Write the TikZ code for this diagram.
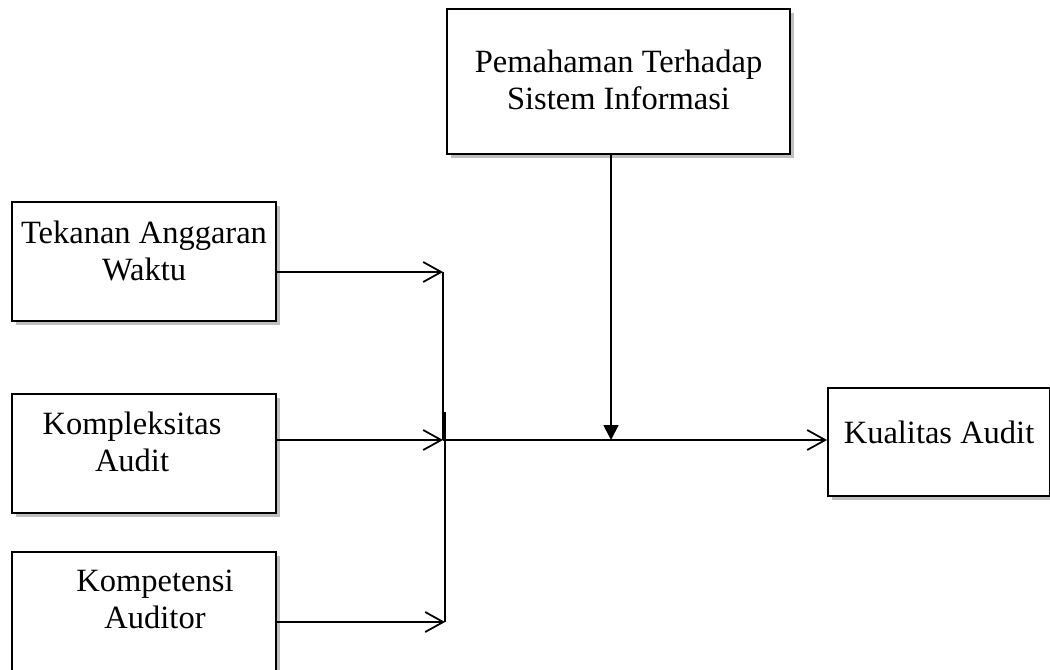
\documentclass[tikz,border=0pt]{standalone}
\usepackage{fontspec}
\setmainfont{Liberation Serif}
\usetikzlibrary{arrows.meta,shadows}

\begin{document}
\begin{tikzpicture}[x=0.02cm, y=-0.02cm,
	box/.style={rectangle, draw=black, line width=1.2pt, fill=white, anchor=north west, align=center, inner sep=0pt,
		font=\fontsize{18.5}{21}\selectfont, drop shadow={fill=black!25, opacity=1, shadow xshift=0.08cm, shadow yshift=-0.08cm}},
	link/.style={draw=black, line width=1pt},
	openhead/.style={-{Straight Barb[length=0.36cm, width=0.4cm]}}]
			\useasboundingbox (0,0) rectangle (1050,669);
			
			\node[box, minimum width=6.86cm, text height=2.0cm, text depth=0.9cm] (pemahaman) at (446,8) {Pemahaman Terhadap\\Sistem Informasi};
			\node[box, minimum width=5.28cm, text height=1.56cm, text depth=0.82cm] (tekanan) at (11,201) {Tekanan Anggaran\\Waktu};
			\node[box, minimum width=5.28cm, text height=1.54cm, text depth=0.84cm] (kompleksitas) at (11,393) {Kompleksitas\hspace*{0.48cm}\\Audit\hspace*{0.48cm}};
			\node[box, minimum width=5.28cm, text height=1.52cm, text depth=1.46cm] (kompetensi) at (11,551) {\hspace*{0.44cm}Kompetensi\\\hspace*{0.44cm}Auditor};
			\node[box, minimum width=4.44cm, text height=1.1cm, text depth=1.06cm] (kualitas) at (827,387) {Kualitas Audit};
			
			\coordinate (t1) at (443,272);
			\coordinate (t2) at (443,440);
			\coordinate (t3) at (445,622);
			\coordinate (t4) at (445,412);
			\coordinate (m) at (611,440);
			
			\draw[link, openhead] (tekanan.east |- t1) -- (t1);
			\draw[link, openhead] (kompleksitas.east |- t2) -- (t2);
			\draw[link, openhead] (kompetensi.east |- t3) -- (t3);
			\draw[link] (t1) -- (t2);
			\draw[link] (t4) -- (t3);
			\draw[link, openhead] (t2) -- (kualitas.west |- t2);
			\draw[link, -{Triangle[length=0.3cm, width=0.3cm]}] (pemahaman.south -| m) -- (m);
\end{tikzpicture}
\end{document}
